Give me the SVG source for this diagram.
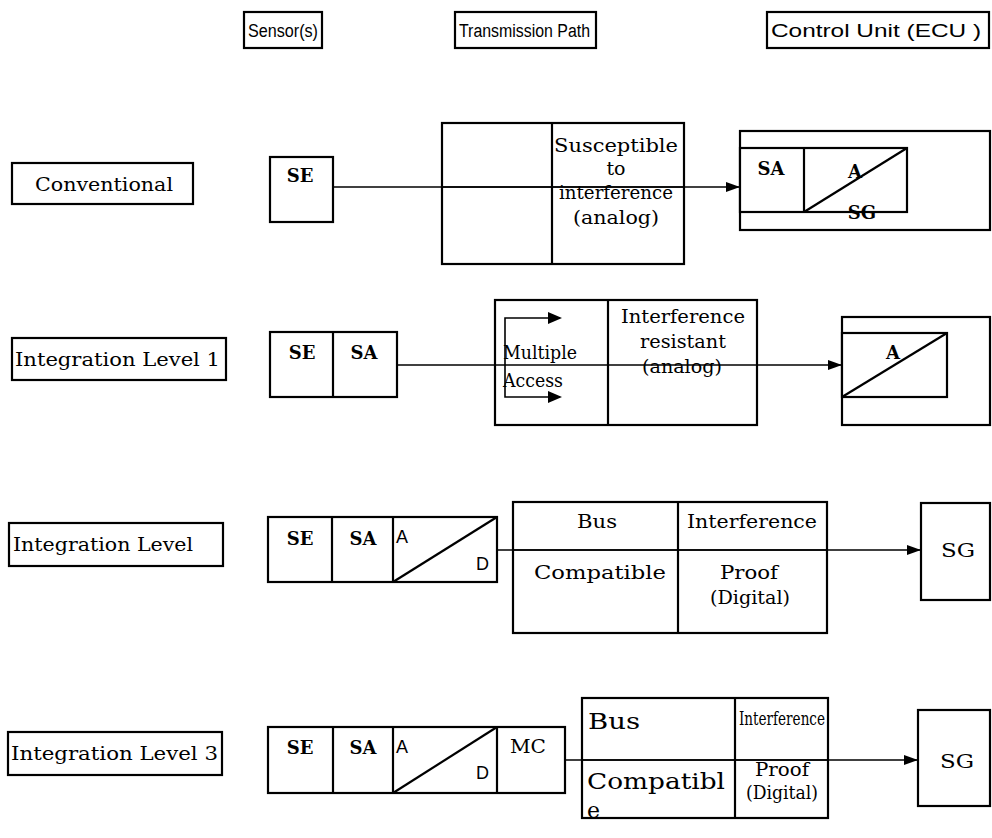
<svg xmlns="http://www.w3.org/2000/svg" width="992" height="838" viewBox="0 0 992 838">
  <defs>
    <marker id="arrow" markerWidth="14" markerHeight="10" refX="14" refY="5" orient="auto" markerUnits="userSpaceOnUse">
      <path d="M0,0 L14,5 L0,10 Z" fill="#000"/>
    </marker>
    <style>
      .box { fill: #fff; stroke: #000; stroke-width: 2.2; }
      .ln { fill: none; stroke: #000; stroke-width: 2.2; }
      .conn { fill: none; stroke: #000; stroke-width: 1.6; }
      .t { font-family: "DejaVu Serif", "Liberation Serif", serif; font-size: 19px; fill: #000; }
      .tb { font-family: "DejaVu Serif", "Liberation Serif", serif; font-size: 18px; font-weight: bold; fill: #000; }
      .sf { font-family: "Liberation Sans", Arial, sans-serif; font-size: 18px; fill: #000; }
      .hd { font-family: "Liberation Sans", Arial, sans-serif; font-size: 18px; fill: #000; }
      .big { font-family: "DejaVu Serif", "Liberation Serif", serif; font-size: 22px; fill: #000; }
      .c { text-anchor: middle; }
    </style>
  </defs>
  <rect width="992" height="838" fill="#fff"/>

  <!-- column headings -->
  <g id="head-sensor">
    <rect class="box" x="244" y="12" width="78" height="36"/>
    <text class="hd" x="248" y="37" textLength="70" lengthAdjust="spacingAndGlyphs">Sensor(s)</text>
  </g>
  <g id="head-path">
    <rect class="box" x="455" y="12" width="141" height="36"/>
    <text class="hd" x="459" y="37" textLength="131" lengthAdjust="spacingAndGlyphs">Transmission Path</text>
  </g>
  <g id="head-ecu">
    <rect class="box" x="767" y="12" width="222" height="36"/>
    <text class="hd" x="771" y="37" textLength="210" lengthAdjust="spacingAndGlyphs">Control Unit (ECU )</text>
  </g>

  <!-- row labels -->
  <g id="label-conventional">
    <rect class="box" x="12" y="163" width="181" height="41"/>
    <text class="t" x="35" y="191" textLength="138" lengthAdjust="spacingAndGlyphs">Conventional</text>
  </g>
  <g id="label-level1">
    <rect class="box" x="12" y="338" width="214" height="42"/>
    <text class="t" x="15" y="366" textLength="205" lengthAdjust="spacingAndGlyphs">Integration Level 1</text>
  </g>
  <g id="label-level2">
    <rect class="box" x="9" y="523" width="214" height="43"/>
    <text class="t" x="13" y="551" textLength="180" lengthAdjust="spacingAndGlyphs">Integration Level</text>
  </g>
  <g id="label-level3">
    <rect class="box" x="8" y="732" width="214" height="43"/>
    <text class="t" x="11" y="760" textLength="207" lengthAdjust="spacingAndGlyphs">Integration Level 3</text>
  </g>

  <!-- connectors -->
  <g id="connectors">
    <line class="conn" x1="333" y1="187" x2="740" y2="187" marker-end="url(#arrow)"/>
    <line class="conn" x1="397" y1="365" x2="842" y2="365" marker-end="url(#arrow)"/>
    <line class="conn" x1="497" y1="550" x2="921" y2="550" marker-end="url(#arrow)"/>
    <line class="conn" x1="565" y1="760" x2="918" y2="760" marker-end="url(#arrow)"/>
  </g>

  <!-- row 1: conventional -->
  <g id="r1-sensor">
    <rect class="box" x="270" y="157" width="63" height="65"/>
    <text class="tb c" x="300" y="182">SE</text>
  </g>
  <g id="r1-path">
    <rect class="ln" x="442" y="123" width="242" height="141"/>
    <line class="ln" x1="552" y1="123" x2="552" y2="264"/>
    <line class="conn" x1="442" y1="187" x2="684" y2="187"/>
    <text class="t c" x="616" y="152" textLength="124" lengthAdjust="spacingAndGlyphs">Susceptible</text>
    <text class="t c" x="616" y="175">to</text>
    <text class="t c" x="616" y="199" textLength="114" lengthAdjust="spacingAndGlyphs">interference</text>
    <text class="t c" x="616" y="224" textLength="86" lengthAdjust="spacingAndGlyphs">(analog)</text>
  </g>
  <g id="r1-ecu">
    <rect class="box" x="740" y="131" width="250" height="99"/>
    <rect class="box" x="740" y="148" width="167" height="64"/>
    <line class="ln" x1="804" y1="148" x2="804" y2="212"/>
    <line class="ln" x1="804" y1="212" x2="907" y2="148"/>
    <text class="tb c" x="771" y="175">SA</text>
    <text class="tb c" x="855" y="178">A</text>
    <text class="tb c" x="862" y="219">SG</text>
  </g>

  <!-- row 2: integration level 1 -->
  <g id="r2-sensor">
    <rect class="box" x="270" y="332" width="127" height="65"/>
    <line class="ln" x1="333" y1="332" x2="333" y2="397"/>
    <text class="tb c" x="302" y="359">SE</text>
    <text class="tb c" x="364" y="359">SA</text>
  </g>
  <g id="r2-path">
    <rect class="box" x="495" y="300" width="262" height="125"/>
    <line class="ln" x1="608" y1="300" x2="608" y2="425"/>
    <line class="conn" x1="495" y1="365" x2="757" y2="365"/>
    <polyline class="conn" points="560,318 505,318 505,397 560,397"/>
    <path d="M548,312 L562,318 L548,324 Z"/>
    <path d="M548,391 L562,397 L548,403 Z"/>
    <text class="t" x="503" y="359" textLength="74" lengthAdjust="spacingAndGlyphs">Multiple</text>
    <text class="t" x="503" y="387" textLength="60" lengthAdjust="spacingAndGlyphs">Access</text>
    <text class="t c" x="683" y="323" textLength="124" lengthAdjust="spacingAndGlyphs">Interference</text>
    <text class="t c" x="683" y="348" textLength="86" lengthAdjust="spacingAndGlyphs">resistant</text>
    <text class="t c" x="682" y="373" textLength="80" lengthAdjust="spacingAndGlyphs">(analog)</text>
  </g>
  <g id="r2-ecu">
    <rect class="box" x="842" y="317" width="148" height="108"/>
    <rect class="box" x="842" y="333" width="105" height="64"/>
    <line class="ln" x1="842" y1="397" x2="947" y2="333"/>
    <text class="tb c" x="893" y="359">A</text>
  </g>

  <!-- row 3: integration level -->
  <g id="r3-sensor">
    <rect class="box" x="268" y="517" width="229" height="65"/>
    <line class="ln" x1="332" y1="517" x2="332" y2="582"/>
    <line class="ln" x1="393" y1="517" x2="393" y2="582"/>
    <line class="ln" x1="393" y1="582" x2="497" y2="517"/>
    <text class="tb c" x="300" y="545">SE</text>
    <text class="tb c" x="363" y="545">SA</text>
    <text class="sf" x="396" y="543">A</text>
    <text class="sf" x="476" y="570">D</text>
  </g>
  <g id="r3-path">
    <rect class="ln" x="513" y="502" width="314" height="131"/>
    <line class="ln" x1="678" y1="502" x2="678" y2="633"/>
    <line class="conn" x1="513" y1="550" x2="827" y2="550"/>
    <text class="t c" x="597" y="528" textLength="40" lengthAdjust="spacingAndGlyphs">Bus</text>
    <text class="t c" x="600" y="579" textLength="132" lengthAdjust="spacingAndGlyphs">Compatible</text>
    <text class="t c" x="752" y="528" textLength="130" lengthAdjust="spacingAndGlyphs">Interference</text>
    <text class="t c" x="749" y="579" textLength="58" lengthAdjust="spacingAndGlyphs">Proof</text>
    <text class="t c" x="750" y="604" textLength="80" lengthAdjust="spacingAndGlyphs">(Digital)</text>
  </g>
  <g id="r3-ecu">
    <rect class="box" x="921" y="503" width="69" height="97"/>
    <text class="t c" x="958" y="557" textLength="34" lengthAdjust="spacingAndGlyphs">SG</text>
  </g>

  <!-- row 4: integration level 3 -->
  <g id="r4-sensor">
    <rect class="box" x="268" y="727" width="297" height="66"/>
    <line class="ln" x1="333" y1="727" x2="333" y2="793"/>
    <line class="ln" x1="393" y1="727" x2="393" y2="793"/>
    <line class="ln" x1="497" y1="727" x2="497" y2="793"/>
    <line class="ln" x1="393" y1="793" x2="497" y2="727"/>
    <text class="tb c" x="300" y="754">SE</text>
    <text class="tb c" x="363" y="754">SA</text>
    <text class="sf" x="396" y="753">A</text>
    <text class="sf" x="476" y="779">D</text>
    <text class="t c" x="528" y="753" textLength="36" lengthAdjust="spacingAndGlyphs">MC</text>
  </g>
  <g id="r4-path">
    <rect class="ln" x="582" y="698" width="246" height="120"/>
    <line class="ln" x1="735" y1="698" x2="735" y2="818"/>
    <line class="conn" x1="582" y1="760" x2="828" y2="760"/>
    <text class="big" x="588" y="729" textLength="52" lengthAdjust="spacingAndGlyphs">Bus</text>
    <text class="big" x="587" y="789" textLength="138" lengthAdjust="spacingAndGlyphs">Compatibl</text>
    <text class="big" x="587" y="818">e</text>
    <text class="t c" x="782" y="725" font-size="15" textLength="86" lengthAdjust="spacingAndGlyphs">Interference</text>
    <text class="t c" x="782" y="776" font-size="16" textLength="54" lengthAdjust="spacingAndGlyphs">Proof</text>
    <text class="t c" x="782" y="799" font-size="16" textLength="72" lengthAdjust="spacingAndGlyphs">(Digital)</text>
  </g>
  <g id="r4-ecu">
    <rect class="box" x="918" y="710" width="72" height="96"/>
    <text class="t c" x="957" y="768" textLength="34" lengthAdjust="spacingAndGlyphs">SG</text>
  </g>
</svg>
